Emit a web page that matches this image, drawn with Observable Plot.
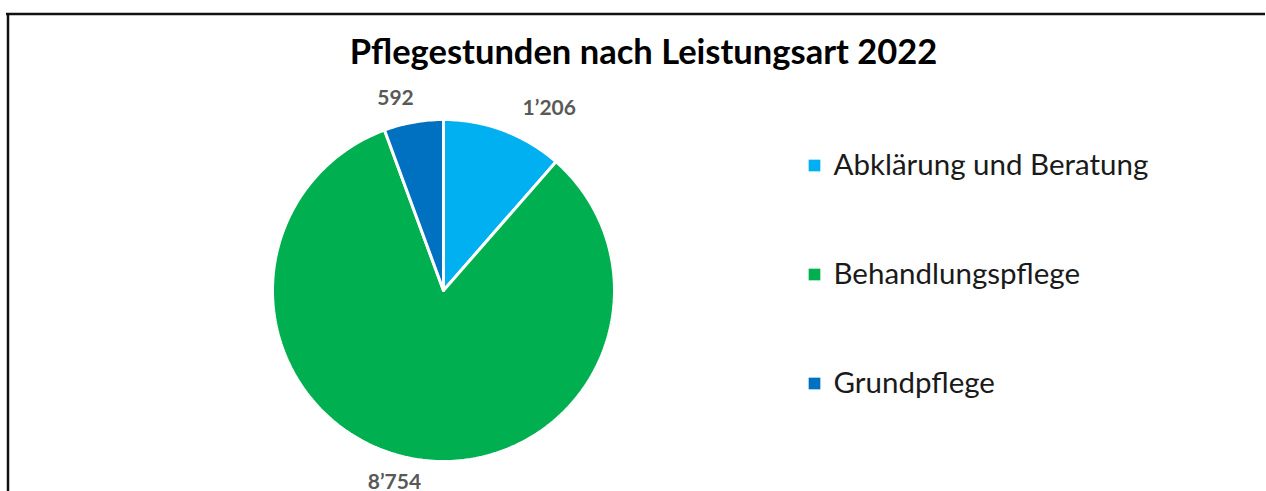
<!DOCTYPE html>
<html><head><meta charset="utf-8">
<script src="https://cdn.jsdelivr.net/npm/d3@7"></script>
<script src="https://cdn.jsdelivr.net/npm/@observablehq/plot@0.6"></script>
<style>body{margin:0;background:#fff;overflow:hidden}</style>
</head><body><div id="chart"></div>
<script>
const title = "Pflegestunden nach Leistungsart 2022";
const categories = ["Abklärung und Beratung", "Behandlungspflege", "Grundpflege"];
const values = [1206, 8754, 592];
const valueLabels = ["1’206", "8’754", "592"];
const colors = ["#00B0F0", "#00B050", "#0070C0"];

const W = 1266, H = 491, cx = 443, cy = 290, R = 171;
const font = "Lato, 'Open Sans', sans-serif";

const arcs = d3.pie().sort(null)(values);
const slices = arcs.map((a, i) => {
  const pts = [{x: cx, y: cy}];
  const n = Math.max(4, Math.ceil((a.endAngle - a.startAngle) * 180 / Math.PI));
  for (let k = 0; k <= n; k++) {
    const t = a.startAngle + (a.endAngle - a.startAngle) * k / n;
    pts.push({x: cx + R * Math.sin(t), y: cy - R * Math.cos(t)});
  }
  pts.push({x: cx, y: cy});
  return pts;
});

// outside-end labels: placed beside the slice's mid-angle edge point
const labelData = arcs.map((a, i) => {
  const m = (a.startAngle + a.endAngle) / 2;
  const s = Math.sin(m), c = -Math.cos(m);
  const ex = cx + R * s, ey = cy + R * c;
  const side = s > 0.33 ? "start" : s < -0.33 ? "end" : "middle";
  return {
    text: valueLabels[i],
    x: side === "start" ? ex + 19 : side === "end" ? ex - 19 : ex - 18,
    y: ey + 24 * c,
    anchor: side
  };
});

const legendData = categories.map((c, i) => ({cat: c, color: colors[i], x: 814, y: 165 + i * 109}));

const marks = [
  Plot.ruleY([13.5], {x1: 6, x2: 1265, stroke: "#111", strokeWidth: 2.5}),
  Plot.ruleX([7.5], {y1: 13, y2: H, stroke: "#111", strokeWidth: 2.5}),
  ...slices.map((pts, i) => Plot.line(pts, {x: "x", y: "y", fill: colors[i], stroke: "#fff", strokeWidth: 3, strokeLinejoin: "miter", curve: "linear"})),
  ...labelData.map(d => Plot.text([d], {x: "x", y: "y", text: "text", fill: "#595959", fontSize: 21, fontWeight: "bold", textAnchor: d.anchor})),
  Plot.text([title], {x: () => 643, y: () => 52, text: d => d, fontSize: 34.5, fontWeight: "bold", fill: "#000"}),
  Plot.dot(legendData, {x: "x", y: "y", symbol: "square", r: 6.6, fill: "color", stroke: null}),
  Plot.text(legendData, {x: d => d.x + 19, y: "y", text: "cat", textAnchor: "start", fontSize: 29.5, fill: "#1a1a1a"})
];

const chart = Plot.plot({
  width: W, height: H,
  margin: 0,
  x: {domain: [0, W], range: [0, W], axis: null},
  y: {domain: [0, H], range: [0, H], axis: null},
  color: {type: "identity"},
  style: {fontFamily: font, background: "#fff", overflow: "visible"},
  marks
});
document.getElementById("chart").append(chart);
</script>
</body></html>
